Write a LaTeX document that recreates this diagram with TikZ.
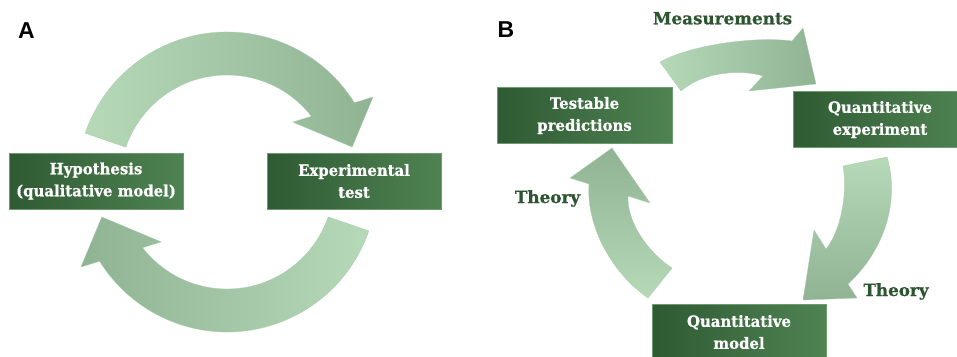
\documentclass[tikz,border=0pt]{standalone}
\usepackage{fontspec}
\newfontfamily\boxfont[FakeStretch=0.96,FakeBold=0.8]{DejaVu Serif Bold}
\newfontfamily\labelfont[FakeBold=0.8]{DejaVu Serif Bold}
\newfontfamily\letterfont{Liberation Sans}
\definecolor{boxdark}{HTML}{2F5A33}
\definecolor{boxlight}{HTML}{4F8352}
\definecolor{boxedge}{HTML}{6E9A70}
\definecolor{arrowlight}{HTML}{B6D9B8}
\definecolor{arrowdark}{HTML}{8FB393}
\definecolor{arrowedge}{HTML}{A9CCAB}
\definecolor{labelgreen}{HTML}{2E5531}
\tikzset{
  greenbox/.style={minimum width=174pt, minimum height=56pt, inner sep=0pt,
    align=center, text=white, left color=boxdark, right color=boxlight,
    draw=boxedge, line width=0.4pt,
    font=\boxfont\fontsize{15.5}{22}\selectfont},
  blockarrow/.style={draw=arrowedge, line width=0.3pt},
  looplabel/.style={text=labelgreen, inner sep=0pt, anchor=base,
    font=\labelfont\fontsize{16.8}{20}\selectfont},
  panelletter/.style={inner sep=0pt, anchor=base,
    font=\letterfont\bfseries\fontsize{23}{27}\selectfont}
}
\begin{document}
\begin{tikzpicture}[x=1pt, y=1pt, yscale=-1]
\useasboundingbox (0,0) rectangle (957,356);
\clip (0,0) rectangle (957,356);

% ---------- Panel A: two-step cycle ----------
\node[panelletter] (letA) at (26.5,38) {A};

\begin{scope}[shift={(227,182)}]
  % upper arrow, hypothesis -> experiment
  \path[blockarrow, left color=arrowlight, right color=arrowdark]
    (-161:150) arc[start angle=-161, end angle=-31.9, radius=150]
    -- (-30.2:169) -- (-15.6:130) -- (-42.3:89) -- (-37.9:107)
    arc[start angle=-37.9, end angle=-161, radius=107] -- cycle;
  % lower arrow, experiment -> hypothesis
  \path[blockarrow, left color=arrowdark, right color=arrowlight]
    (19:150) arc[start angle=19, end angle=148.1, radius=150]
    -- (149.8:169) -- (164.4:130) -- (137.7:89) -- (142.1:107)
    arc[start angle=142.1, end angle=19, radius=107] -- cycle;
\end{scope}

\node[greenbox] (hyp) at (96,181) {Hypothesis\\(qualitative model)};
\node[greenbox] (exp) at (354,181) {Experimental\\test};

% ---------- Panel B: quantitative cycle ----------
\node[panelletter] (letB) at (506,37) {B};

% predictions -> experiment
\path[blockarrow, left color=arrowlight, right color=arrowdark]
  (660,62) .. controls (690,45) and (755,36) .. (792,41)
  -- (803,28) -- (816,84) -- (749,91) -- (763,76)
  .. controls (745,70) and (705,70) .. (681,91) -- cycle;
% experiment -> model
\path[blockarrow, top color=arrowlight, bottom color=arrowdark]
  (843,166) -- (887,157) .. controls (900,200) and (885,250) .. (848,284)
  -- (857,298) -- (803,300) -- (814,230) -- (826,249)
  .. controls (840,232) and (848,195) .. (843,166) -- cycle;
% model -> predictions
\path[blockarrow, top color=arrowdark, bottom color=arrowlight]
  (648,298) .. controls (608,270) and (586,222) .. (589,184)
  -- (570,178) -- (612,148) -- (650,203) -- (628,196)
  .. controls (627,220) and (645,250) .. (672,268) -- cycle;

\node[greenbox, minimum width=175pt] (pred) at (584.5,115.5) {Testable\\predictions};
\node[greenbox] (qexp) at (880,119.5) {Quantitative\\experiment};
\node[greenbox] (qmod) at (739,332) {Quantitative\\model};

\node[looplabel] (meas) at (722.5,24.3) {Measurements};
\node[looplabel] (thL) at (547.5,203) {Theory};
\node[looplabel] (thR) at (896,296) {Theory};
\end{tikzpicture}
\end{document}
